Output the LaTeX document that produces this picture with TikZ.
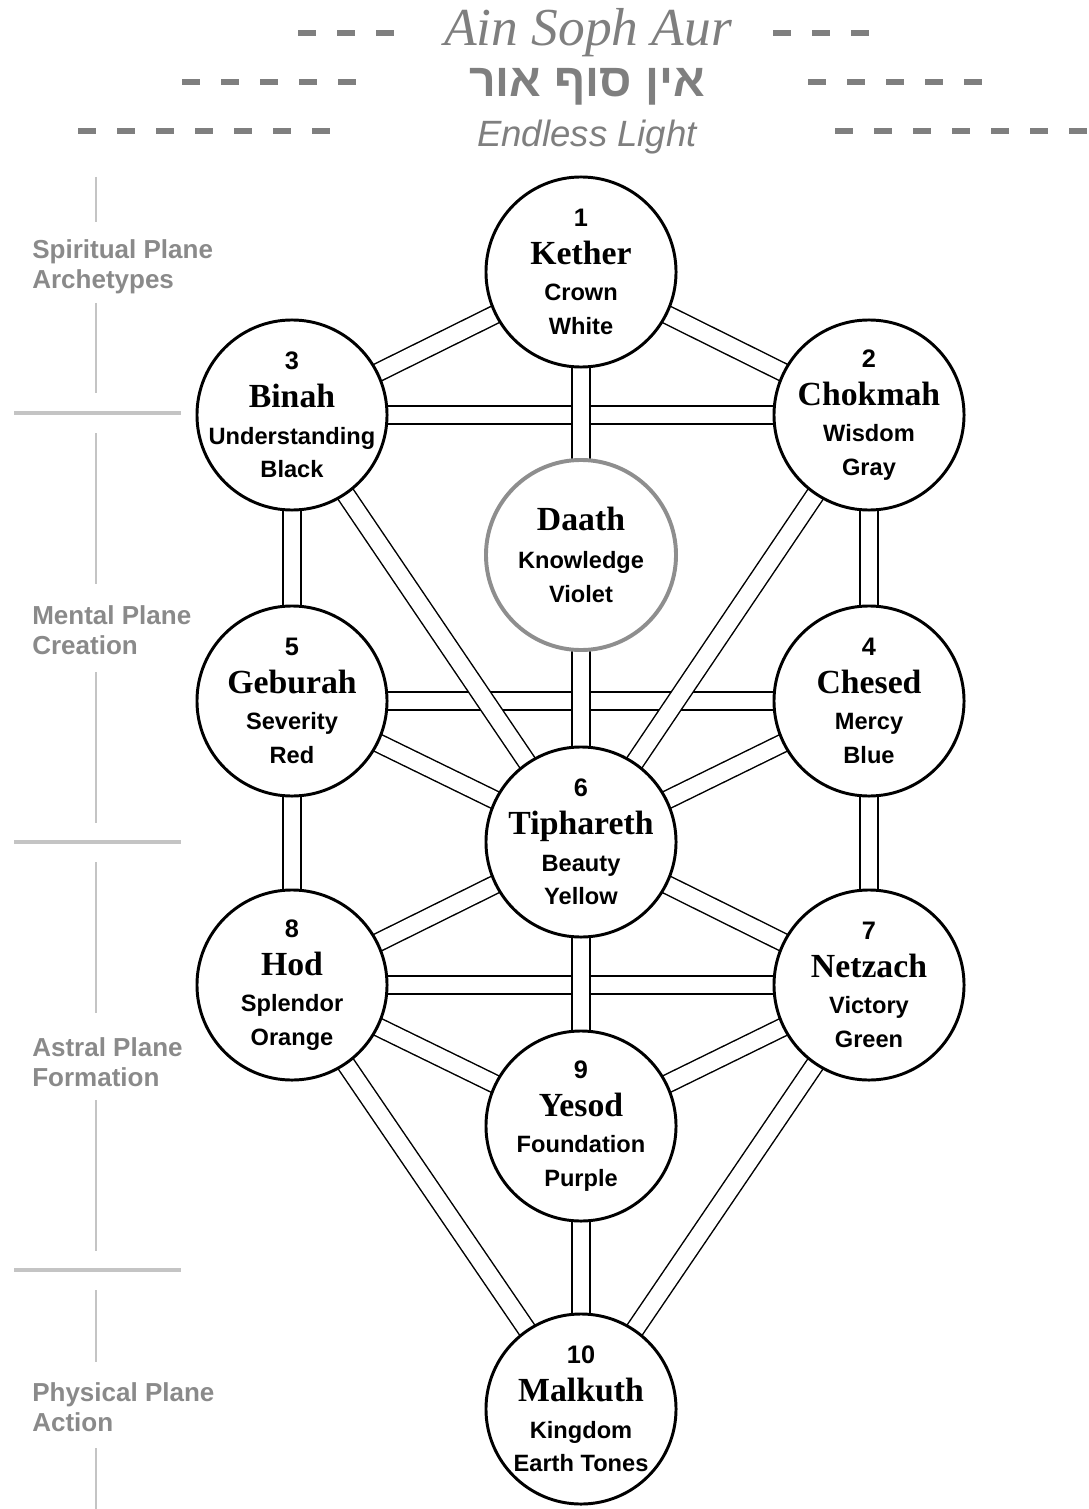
\documentclass[tikz,border=0pt]{standalone}
\usepackage{fontspec}
\setmainfont{Liberation Sans}
\newfontfamily\namefont{Liberation Serif}
\newfontfamily\hebfont[Script=Hebrew]{Liberation Sans}
\TeXXeTstate=1
\usetikzlibrary{backgrounds}
\definecolor{headgray}{HTML}{7F7F7F}
\definecolor{planegray}{HTML}{8A8A8A}
\definecolor{rulegray}{HTML}{C4C4C4}
\definecolor{daathgray}{HTML}{8E8E8E}
\newcommand{\sefnum}[1]{{\fontsize{18}{20}\selectfont #1}}
\newcommand{\sefname}[1]{{\namefont\fontsize{24}{26}\selectfont #1}}
\tikzset{
  sefira/.style={circle,draw=black,line width=2.1pt,fill=white,minimum size=4.75cm,
                 inner xsep=-0.8cm,inner ysep=0pt,align=center,
                 font=\bfseries\fontsize{16.8}{24}\selectfont},
  daath/.style={sefira,draw=daathgray,line width=2.8pt},
  channel/.style={draw=black,line width=1.05pt,double=white,double distance=11.8pt},
  plane/.style={anchor=west,align=left,text=planegray,inner sep=0pt,
                font=\bfseries\fontsize{18.5}{21.5}\selectfont},
  vrule/.style={draw=rulegray,line width=1.6pt},
  hrule/.style={draw=rulegray,line width=2.3pt},
  hdash/.style={draw=headgray,line width=4.6pt,dash pattern=on 0.45cm off 0.525cm},
  head/.style={text=headgray,inner sep=0pt,anchor=base}
}

\begin{document}
\begin{tikzpicture}[x=0.025cm,y=-0.025cm]
  \useasboundingbox (0,0) rectangle (1089,1509);

  % title
  \node[head,font=\namefont\itshape\fontsize{38}{40}\selectfont] (ainsoph) at (588,46) {Ain Soph Aur};
  \node[head,font=\hebfont\bfseries\fontsize{33}{35}\selectfont] (hebrew) at (587,97) {\beginR אין סוף אור\endR};
  \node[head,font=\itshape\fontsize{26}{28}\selectfont] (endless) at (587,147) {Endless Light};
  \draw[hdash] (298,33) -- ++(96,0);
  \draw[hdash] (773,33) -- ++(96,0);
  \draw[hdash] (182,82) -- ++(174,0);
  \draw[hdash] (808,82) -- ++(174,0);
  \draw[hdash] (78,131) -- ++(252,0);
  \draw[hdash] (835,131) -- ++(252,0);

  % planes
  \node[plane] (spiritual) at (32,267) {Spiritual Plane\\Archetypes};
  \node[plane] (mental) at (32,630) {Mental Plane\\Creation};
  \node[plane] (astral) at (32,1062) {Astral Plane\\Formation};
  \node[plane] (physical) at (32,1407) {Physical Plane\\Action};
  \draw[vrule] (96,177) -- (96,222);
  \draw[vrule] (96,303) -- (96,393);
  \draw[vrule] (96,433) -- (96,584);
  \draw[vrule] (96,672) -- (96,823);
  \draw[vrule] (96,862) -- (96,1013);
  \draw[vrule] (96,1100) -- (96,1251);
  \draw[vrule] (96,1290) -- (96,1362);
  \draw[vrule] (96,1448) -- (96,1509);
  \draw[hrule] (14,413) -- (181,413);
  \draw[hrule] (14,842) -- (181,842);
  \draw[hrule] (14,1270) -- (181,1270);

  % sephiroth
  \node[sefira] (kether) at (581,272) {\sefnum{1}\\[3pt]\sefname{Kether}\\[2pt]Crown\\White};
  \node[sefira] (binah) at (292,415) {\sefnum{3}\\[3pt]\sefname{Binah}\\[2pt]Understanding\\Black};
  \node[sefira] (chokmah) at (869,415) {\sefnum{2}\\[3pt]\sefname{Chokmah}\\[2pt]Wisdom\\Gray};
  \node[daath] (daath) at (581,555) {\sefname{Daath}\\[3pt]Knowledge\\Violet};
  \node[sefira] (geburah) at (292,701) {\sefnum{5}\\[3pt]\sefname{Geburah}\\[2pt]Severity\\Red};
  \node[sefira] (chesed) at (869,701) {\sefnum{4}\\[3pt]\sefname{Chesed}\\[2pt]Mercy\\Blue};
  \node[sefira] (tiphareth) at (581,842) {\sefnum{6}\\[3pt]\sefname{Tiphareth}\\[2pt]Beauty\\Yellow};
  \node[sefira] (hod) at (292,985) {\sefnum{8}\\[3pt]\sefname{Hod}\\[2pt]Splendor\\Orange};
  \node[sefira] (netzach) at (869,985) {\sefnum{7}\\[3pt]\sefname{Netzach}\\[2pt]Victory\\Green};
  \node[sefira] (yesod) at (581,1126) {\sefnum{9}\\[3pt]\sefname{Yesod}\\[2pt]Foundation\\Purple};
  \node[sefira] (malkuth) at (581,1409) {\sefnum{10}\\[3pt]\sefname{Malkuth}\\[2pt]Kingdom\\Earth Tones};

  % paths
  \begin{scope}[on background layer]
    \draw[channel] (binah.center) -- (chokmah.center);
    \draw[channel] (geburah.center) -- (chesed.center);
    \draw[channel] (hod.center) -- (netzach.center);
    \draw[channel] (kether.center) -- (binah.center);
    \draw[channel] (kether.center) -- (chokmah.center);
    \draw[channel] (kether.center) -- (tiphareth.center);
    \draw[channel] (binah.center) -- (geburah.center);
    \draw[channel] (chokmah.center) -- (chesed.center);
    \draw[channel] (binah.center) -- (tiphareth.center);
    \draw[channel] (chokmah.center) -- (tiphareth.center);
    \draw[channel] (geburah.center) -- (tiphareth.center);
    \draw[channel] (chesed.center) -- (tiphareth.center);
    \draw[channel] (geburah.center) -- (hod.center);
    \draw[channel] (chesed.center) -- (netzach.center);
    \draw[channel] (tiphareth.center) -- (hod.center);
    \draw[channel] (tiphareth.center) -- (netzach.center);
    \draw[channel] (tiphareth.center) -- (yesod.center);
    \draw[channel] (hod.center) -- (yesod.center);
    \draw[channel] (netzach.center) -- (yesod.center);
    \draw[channel] (hod.center) -- (malkuth.center);
    \draw[channel] (netzach.center) -- (malkuth.center);
    \draw[channel] (yesod.center) -- (malkuth.center);
  \end{scope}
\end{tikzpicture}
\end{document}
